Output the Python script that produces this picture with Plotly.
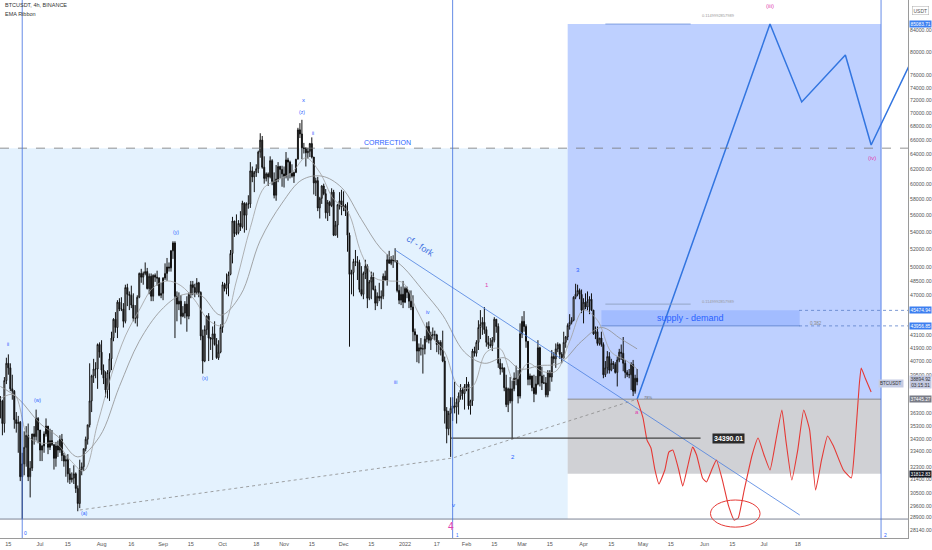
import math
import pandas as pd
import plotly.graph_objects as go

# ---------------- price data (thousand USD), daily ----------------
months = [
    ("2021-06-11",
     [37.3, 35.5, 39.0, 40.5, 40.1, 38.3, 38.1, 35.8, 35.5, 35.6, 31.6, 32.5, 33.7, 34.6, 31.6, 32.2, 34.7, 34.5, 35.9, 35.0],
     [37.7, 37.4, 39.3, 41.0, 41.3, 40.5, 39.5, 38.2, 36.4, 36.1, 35.7, 33.3, 34.9, 35.3, 35.5, 32.7, 34.7, 35.3, 36.6, 36.0],
     [35.9, 34.6, 34.8, 38.7, 39.5, 38.1, 37.4, 35.1, 34.8, 33.3, 31.3, 28.8, 31.7, 32.3, 31.3, 30.2, 32.0, 33.9, 34.2, 34.0]),
    ("2021-07-01",
     [33.5, 33.8, 34.7, 35.3, 33.7, 34.2, 33.9, 32.9, 33.8, 33.5, 34.3, 33.1, 32.7, 32.8, 31.8, 31.4, 31.5, 31.8, 30.8, 29.8, 32.1, 32.3, 33.6, 34.3, 35.4, 37.3, 39.4, 40.0, 40.0, 42.2, 41.5],
     [35.0, 33.9, 34.9, 35.9, 35.3, 35.1, 35.0, 33.9, 34.1, 34.2, 34.6, 34.7, 33.3, 33.1, 33.2, 32.2, 31.9, 32.4, 31.9, 31.0, 32.8, 32.6, 33.6, 34.5, 35.4, 40.5, 39.5, 40.9, 40.6, 42.3, 42.4],
     [32.7, 32.7, 33.3, 34.5, 33.2, 33.5, 33.8, 32.1, 32.3, 33.0, 33.3, 32.7, 32.3, 31.6, 31.2, 31.1, 31.2, 31.1, 30.5, 29.3, 29.5, 31.7, 32.0, 33.4, 33.9, 35.2, 36.4, 38.8, 39.2, 38.3, 41.0]),
    ("2021-08-01",
     [39.9, 39.2, 38.2, 39.7, 40.9, 42.8, 44.6, 43.8, 46.3, 45.6, 45.6, 44.4, 47.8, 47.1, 47.0, 46.0, 44.7, 44.7, 46.8, 49.3, 48.9, 49.3, 49.5, 47.7, 49.0, 46.9, 49.1, 48.9, 48.8, 47.0, 47.2],
     [42.6, 40.4, 39.8, 39.9, 41.4, 43.4, 44.7, 45.3, 46.5, 46.7, 46.8, 46.2, 48.1, 48.2, 47.4, 48.0, 47.2, 46.0, 47.0, 49.4, 49.8, 49.5, 50.5, 49.9, 49.3, 49.3, 49.2, 49.3, 49.6, 48.9, 48.3],
     [39.5, 38.7, 37.6, 37.5, 37.3, 39.9, 42.5, 43.3, 42.8, 45.4, 45.4, 43.8, 44.2, 45.9, 45.5, 45.7, 44.4, 44.2, 43.9, 46.7, 48.3, 48.1, 49.1, 47.6, 47.1, 46.4, 46.4, 48.4, 48.0, 46.9, 46.7]),
    ("2021-09-01",
     [48.8, 49.3, 50.0, 49.9, 51.8, 52.7, 46.9, 46.1, 46.4, 44.9, 45.2, 46.1, 44.9, 47.1, 48.1, 47.8, 47.3, 48.3, 47.3, 43.0, 40.7, 43.6, 44.9, 42.8, 42.7, 43.2, 42.2, 41.0, 41.5, 43.8],
     [48.9, 50.4, 51.0, 50.5, 51.9, 52.9, 52.9, 47.4, 47.3, 47.0, 45.9, 46.4, 46.9, 47.3, 48.5, 48.5, 48.2, 48.8, 48.4, 47.4, 43.6, 44.0, 45.0, 45.2, 42.9, 43.9, 44.4, 42.8, 42.6, 44.1],
     [46.5, 48.6, 48.5, 49.5, 49.5, 50.9, 42.8, 44.4, 45.5, 44.1, 44.8, 44.7, 43.4, 44.6, 46.7, 47.0, 46.8, 47.1, 46.8, 42.6, 39.6, 40.6, 43.1, 40.7, 41.7, 40.8, 42.1, 40.9, 40.8, 41.4]),
    ("2021-10-01",
     [48.1, 47.7, 48.2, 49.2, 51.5, 55.3, 53.8, 53.9, 55.0, 54.6, 57.5, 56.0, 57.4, 57.4, 61.7, 60.9, 61.5, 62.0, 64.3, 66.0, 62.2, 60.7, 61.3, 60.9, 63.1, 60.3, 58.5, 60.6, 62.3, 61.9, 61.3],
     [48.4, 48.3, 49.3, 49.5, 51.9, 55.8, 55.3, 56.1, 55.4, 56.5, 57.8, 57.6, 57.6, 58.5, 62.9, 62.3, 61.7, 62.6, 64.5, 67.0, 66.6, 63.7, 61.5, 61.5, 63.7, 63.3, 61.5, 62.5, 62.9, 62.4, 62.4],
     [43.3, 47.4, 47.1, 46.9, 49.1, 50.4, 53.4, 53.6, 53.7, 54.1, 54.4, 53.9, 54.2, 56.8, 56.9, 60.2, 58.9, 60.9, 61.4, 63.5, 62.0, 60.0, 60.3, 59.7, 60.7, 59.8, 58.1, 57.8, 60.2, 60.7, 59.6]),
    ("2021-11-01",
     [61.0, 63.2, 62.9, 61.4, 61.0, 61.5, 63.3, 67.5, 66.9, 64.9, 64.8, 64.2, 64.4, 65.5, 63.6, 60.1, 60.4, 56.9, 58.1, 59.7, 58.7, 56.3, 57.6, 57.2, 58.9, 53.6, 54.8, 57.3, 57.8, 57.0],
     [62.3, 64.3, 63.5, 63.1, 62.6, 61.6, 63.3, 67.8, 68.5, 69.0, 65.6, 65.0, 64.9, 65.6, 66.4, 63.6, 60.8, 60.9, 58.3, 59.8, 60.0, 59.3, 57.9, 57.8, 59.4, 59.2, 55.3, 57.4, 58.9, 59.2],
     [59.5, 60.7, 60.4, 60.7, 60.8, 60.1, 61.4, 63.3, 66.3, 63.3, 64.1, 62.3, 63.4, 63.6, 63.4, 58.6, 58.4, 56.5, 55.6, 57.4, 58.5, 55.6, 55.3, 55.9, 57.0, 53.5, 53.6, 53.3, 56.7, 56.0]),
    ("2021-12-01",
     [57.2, 56.5, 53.6, 49.2, 49.4, 50.6, 50.6, 50.5, 47.6, 47.1, 49.3, 50.1, 46.7, 48.4, 48.9, 47.6, 46.2, 46.9, 46.7, 46.9, 49.0, 48.6, 50.8, 50.4, 50.8, 50.7, 50.7, 47.5, 46.5, 47.1, 46.3],
     [59.0, 57.4, 57.6, 53.9, 49.7, 50.9, 51.9, 51.2, 50.8, 50.1, 49.5, 50.8, 50.3, 48.6, 49.5, 49.4, 48.0, 47.3, 48.3, 47.5, 49.3, 49.6, 51.4, 51.8, 51.2, 51.3, 52.1, 50.7, 48.1, 47.9, 48.5],
     [56.5, 55.9, 51.7, 42.0, 47.1, 46.9, 50.1, 48.6, 47.3, 46.9, 46.6, 48.7, 45.7, 46.5, 46.6, 47.5, 45.5, 45.9, 46.4, 45.6, 46.6, 48.5, 48.0, 50.4, 50.2, 49.9, 50.5, 47.3, 46.1, 46.0, 45.7]),
    ("2022-01-01",
     [47.7, 47.3, 46.4, 45.8, 43.4, 43.1, 41.6, 41.9, 41.8, 41.8, 42.7, 43.9, 42.6, 43.1, 43.1, 43.1, 42.2, 42.4, 41.7, 40.7, 36.5, 35.1, 36.3, 36.7, 36.9, 36.8, 37.2, 37.7, 38.2, 37.9, 38.5],
     [47.9, 47.9, 47.5, 47.5, 47.0, 43.7, 43.1, 42.3, 42.8, 42.2, 43.0, 44.3, 44.4, 43.4, 43.8, 43.5, 43.2, 42.6, 42.6, 43.5, 41.1, 36.8, 36.5, 37.6, 37.6, 38.9, 37.5, 38.0, 38.7, 38.4, 38.7],
     [46.2, 46.7, 45.7, 45.5, 42.5, 42.5, 40.6, 40.5, 41.2, 39.6, 41.3, 42.4, 42.3, 41.7, 42.7, 42.6, 41.5, 41.3, 41.2, 40.6, 35.5, 34.0, 34.6, 33.0, 35.7, 36.3, 35.5, 36.2, 37.4, 37.4, 36.6]),
    ("2022-02-01",
     [38.7, 36.9, 37.3, 41.6, 41.4, 42.4, 43.8, 44.1, 44.3, 43.6, 42.4, 42.2, 42.1, 42.6, 44.6, 43.9, 40.5, 40.0, 40.1, 38.4, 37.0, 38.3, 37.3, 38.3, 39.2, 39.1, 37.7, 43.2],
     [39.3, 38.9, 37.4, 41.8, 42.0, 42.6, 44.5, 45.5, 44.8, 45.8, 43.9, 43.0, 42.8, 42.9, 44.8, 44.6, 44.2, 40.9, 40.5, 40.1, 39.5, 38.4, 39.3, 39.0, 39.7, 40.3, 39.9, 44.2],
     [38.1, 36.6, 36.2, 36.9, 41.1, 41.1, 41.7, 42.7, 43.1, 43.2, 42.0, 41.8, 41.9, 41.6, 42.4, 43.3, 40.1, 39.5, 39.7, 38.1, 36.8, 36.4, 37.1, 34.3, 38.1, 38.6, 37.1, 37.5]),
    ("2022-03-01",
     [44.4, 43.9, 42.5, 39.1, 39.4, 38.4, 37.9, 38.7, 41.9, 39.4, 38.8, 38.8, 37.8, 39.7, 39.3, 41.1, 40.9, 41.8, 42.2, 41.3, 41.0, 42.4, 42.9, 44.0, 44.3, 44.5, 46.8, 47.1, 47.5, 47.1, 45.5],
     [44.9, 45.4, 44.1, 42.5, 39.6, 39.4, 39.5, 39.4, 42.6, 42.0, 40.2, 39.5, 39.3, 39.9, 39.9, 41.7, 41.5, 42.3, 42.4, 42.3, 41.5, 43.4, 43.0, 44.2, 45.1, 44.8, 46.9, 48.2, 48.1, 47.7, 47.6],
     [42.8, 43.4, 41.9, 38.6, 38.6, 38.1, 37.2, 37.8, 38.6, 38.5, 38.2, 38.7, 37.6, 37.6, 38.1, 38.9, 40.5, 40.1, 41.5, 40.9, 40.5, 40.9, 41.9, 42.6, 43.6, 44.1, 44.4, 46.6, 46.9, 46.6, 45.2]),
    ("2022-04-01",
     [46.3, 45.8, 46.4, 46.6, 45.5, 43.2, 43.4, 42.3, 42.8, 42.2, 39.5, 40.1, 41.1, 39.9, 40.5, 40.4, 39.7, 40.8, 41.5, 41.4, 40.5, 39.7, 39.5, 39.5, 40.4, 38.1, 39.2, 38.9],
     [46.7, 47.2, 47.4, 46.9, 47.2, 45.5, 43.9, 43.9, 42.8, 43.4, 42.4, 40.7, 41.6, 41.5, 40.9, 40.7, 40.6, 41.1, 41.8, 42.2, 42.9, 40.8, 39.9, 40.0, 40.6, 40.8, 39.5, 40.0],
     [44.2, 45.6, 45.5, 45.1, 45.4, 43.1, 42.7, 42.1, 42.1, 42.0, 39.2, 39.3, 39.6, 39.6, 39.8, 40.0, 39.6, 38.5, 40.6, 40.8, 39.8, 39.2, 39.3, 39.2, 38.2, 37.7, 37.9, 38.6]),
]

dates, closes, highs, lows = [], [], [], []
for start, c, h, l in months:
    dates += list(pd.date_range(start, periods=len(c), freq="D"))
    closes += [v * 1000 for v in c]
    highs += [v * 1000 for v in h]
    lows += [v * 1000 for v in l]
opens = [closes[0]] + closes[:-1]

# EMA ribbon (read approximately)
ema_mid_dates = ["2021-06-11", "2021-06-18", "2021-06-25", "2021-07-02", "2021-07-09", "2021-07-16", "2021-07-23", "2021-07-30",
                 "2021-08-06", "2021-08-13", "2021-08-20", "2021-08-27", "2021-09-03", "2021-09-10", "2021-09-17", "2021-09-24",
                 "2021-10-01", "2021-10-08", "2021-10-15", "2021-10-22", "2021-10-29", "2021-11-05", "2021-11-12", "2021-11-19",
                 "2021-11-26", "2021-12-03", "2021-12-10", "2021-12-17", "2021-12-24", "2021-12-31", "2022-01-07", "2022-01-14",
                 "2022-01-21", "2022-01-28", "2022-02-04", "2022-02-11", "2022-02-18", "2022-02-25", "2022-03-04", "2022-03-11",
                 "2022-03-18", "2022-03-25", "2022-04-01", "2022-04-08", "2022-04-15", "2022-04-22", "2022-04-28"]
ema_mid = [37500, 37800, 34500, 34000, 34000, 32800, 32000, 35500, 39500, 43000, 45500, 47800, 48500, 48000, 46500, 44500,
           44000, 48500, 54500, 59500, 60500, 61500, 63500, 61500, 58000, 56500, 51500, 48800, 48500, 48300, 45500, 43000,
           41500, 38500, 38500, 41500, 41800, 39000, 40500, 39800, 39800, 42500, 45500, 44500, 41500, 40800, 40000]
ema_slow_dates = ["2021-06-11", "2021-06-20", "2021-07-01", "2021-07-10", "2021-07-20", "2021-07-31", "2021-08-10", "2021-08-20",
                  "2021-08-31", "2021-09-10", "2021-09-20", "2021-09-30", "2021-10-10", "2021-10-20", "2021-10-31", "2021-11-10",
                  "2021-11-20", "2021-11-30", "2021-12-10", "2021-12-20", "2021-12-31", "2022-01-10", "2022-01-20", "2022-01-31",
                  "2022-02-10", "2022-02-20", "2022-02-28", "2022-03-10", "2022-03-20", "2022-03-31", "2022-04-10", "2022-04-20",
                  "2022-04-28"]
ema_slow = [38500, 37500, 35500, 34500, 33000, 34500, 38500, 42500, 45500, 47000, 47000, 45000, 47000, 53000, 57500, 60500,
            61000, 59500, 55500, 52000, 50000, 47500, 45000, 41500, 40500, 41000, 40000, 40300, 40500, 42500, 43800, 42700, 41800]

# levels
low_level = 28805
correction_level = 64850
entry = 37445.27
target = 85083.71
stop = 31812.83
supply_hi = 45474.94
supply_lo = 43956.85
support = 34390.01
last_price = 38894.92

# projections
blue_dates = ["2022-04-28", "2022-07-04", "2022-07-20", "2022-08-11", "2022-08-24", "2022-09-14"]
blue_prices = [37445, 85083, 71750, 79500, 65300, 79000]
red_dates = ["2022-04-28", "2022-05-01", "2022-05-03", "2022-05-05", "2022-05-07", "2022-05-09", "2022-05-12", "2022-05-14",
             "2022-05-16", "2022-05-19", "2022-05-21", "2022-05-24", "2022-05-26", "2022-05-28", "2022-05-31", "2022-06-02",
             "2022-06-05", "2022-06-07", "2022-06-10", "2022-06-13", "2022-06-16", "2022-06-18", "2022-06-21", "2022-06-25",
             "2022-06-28", "2022-07-01", "2022-07-04", "2022-07-07", "2022-07-10", "2022-07-12", "2022-07-15", "2022-07-18",
             "2022-07-21", "2022-07-24", "2022-07-27", "2022-07-30", "2022-08-02", "2022-08-05", "2022-08-10", "2022-08-14",
             "2022-08-16", "2022-08-18", "2022-08-19", "2022-08-21", "2022-08-24"]
red_prices = [37445, 35930, 34240, 33650, 32070, 31100, 32070, 33350, 33500, 32070, 30960, 32630, 33720, 33140, 31510, 31240,
              32210, 32780, 31370, 29700, 28740, 28870, 30690, 33140, 34390, 33140, 32070, 34240, 36570, 34240, 31370, 33500,
              36570, 35000, 30690, 32780, 34550, 33790, 32070, 31510, 34240, 38620, 40090, 39220, 38040]

fork_dates = ["2021-12-27", "2022-07-19"]
fork_prices = [51900, 29060]
dot_dates = ["2021-07-21", "2022-01-25", "2022-04-28"]
dot_prices = [29380, 32920, 37445]

# axis ticks
x_ticks = ["2021-06-15", "2021-07-01", "2021-07-15", "2021-08-01", "2021-08-16", "2021-09-01", "2021-09-15", "2021-10-01",
           "2021-10-18", "2021-11-01", "2021-11-15", "2021-12-01", "2021-12-15", "2022-01-01", "2022-01-17", "2022-02-01",
           "2022-02-15", "2022-03-01", "2022-03-15", "2022-04-01", "2022-04-15", "2022-05-01", "2022-05-15", "2022-06-01",
           "2022-06-15", "2022-07-01", "2022-07-18"]
x_labels = ["15", "Jul", "15", "Aug", "16", "Sep", "15", "Oct", "18", "Nov", "15", "Dec", "15", "2022", "17", "Feb",
            "15", "Mar", "15", "Apr", "15", "May", "15", "Jun", "15", "Jul", "18"]
y_ticks = [84000, 80000, 76000, 74000, 72000, 70000, 68000, 66000, 64000, 62000, 60000, 58000, 56000, 54000, 52000, 50000,
           48500, 47000, 43100, 41900, 40700, 39500, 36300, 35300, 34300, 33400, 32300, 31400, 30500, 29600, 28900, 28140]

W, H = 932, 550
PW, PH = 908, 538
X0, X1 = "2021-06-10 19:00", "2022-09-11 14:00"
FONT = "Liberation Sans"
BLUE = "#2962ff"
PINK = "#e040b0"

fig = go.Figure()

fig.add_trace(go.Scatter(x=ema_slow_dates, y=ema_slow, mode="lines", line=dict(color="#8f8f8f", width=0.8, shape="spline"),
                         hoverinfo="skip"))
fig.add_trace(go.Scatter(x=ema_mid_dates, y=ema_mid, mode="lines", line=dict(color="#a0a0a0", width=0.8, shape="spline"),
                         hoverinfo="skip"))
fig.add_trace(go.Candlestick(x=dates, open=opens, high=highs, low=lows, close=closes,
                             increasing=dict(line=dict(color="#111", width=1), fillcolor="#ffffff"),
                             decreasing=dict(line=dict(color="#111", width=1), fillcolor="#111"),
                             whiskerwidth=0, hoverinfo="skip"))
fig.add_trace(go.Scatter(x=dot_dates, y=dot_prices, mode="lines", line=dict(color="#8a8a8a", width=0.8, dash="dot"),
                         hoverinfo="skip"))
fig.add_trace(go.Scatter(x=fork_dates, y=fork_prices, mode="lines", line=dict(color="#4a7fe0", width=0.8), hoverinfo="skip"))
fig.add_trace(go.Scatter(x=blue_dates, y=blue_prices, mode="lines", line=dict(color="#3275e0", width=1.5), hoverinfo="skip"))
fig.add_trace(go.Scatter(x=red_dates, y=red_prices, mode="lines",
                         line=dict(color="#e53935", width=1.1, shape="spline", smoothing=0.4), hoverinfo="skip"))

shapes = []
def rect(x0, x1, y0, y1, fill, line=None):
    shapes.append(dict(type="rect", xref="x", yref="y", x0=x0, x1=x1, y0=y0, y1=y1, fillcolor=fill,
                       line=dict(width=0) if line is None else line, layer="below"))
def hline(y, x0, x1, color, width=1, dash="solid", xref="x"):
    shapes.append(dict(type="line", xref=xref, yref="y", x0=x0, x1=x1, y0=y, y1=y,
                       line=dict(color=color, width=width, dash=dash), layer="above"))
def vline(x, color, width=0.8):
    shapes.append(dict(type="line", xref="x", yref="paper", x0=x, x1=x, y0=0, y1=1,
                       line=dict(color=color, width=width), layer="above"))

rect("2021-06-01", "2022-03-24", low_level, correction_level, "rgba(33,150,243,0.12)")
rect("2022-03-24", "2022-08-29", entry, target, "rgba(41,98,255,0.30)")
rect("2022-03-24", "2022-08-29", stop, entry, "rgba(120,123,134,0.35)")
rect("2022-04-10", "2022-07-19", supply_lo, supply_hi, "rgba(41,98,255,0.18)")
hline(correction_level, 0, 1, "#777", 0.8, "dash", xref="paper")
hline(low_level, 0, 1, "#7d8494", 1, xref="paper")
hline(entry, "2022-03-24", "2022-08-29", "#8a8a8a", 1)
hline(support, "2022-01-24", "2022-05-30", "#444", 1.2)
hline(supply_lo, "2022-04-10", "2022-07-19", "#5a7fc8", 0.8)
shapes.append(dict(type="line", xref="paper", yref="y", x0=0.88, x1=1, y0=supply_hi, y1=supply_hi,
                   line=dict(color="#5a7fc8", width=0.8, dash="dot")))
shapes.append(dict(type="line", xref="paper", yref="y", x0=0.88, x1=1, y0=supply_lo, y1=supply_lo,
                   line=dict(color="#5a7fc8", width=0.8, dash="dot")))
hline(target, "2022-04-12", "2022-05-25", "#6a8fd8", 0.8)
hline(46100, "2022-04-12", "2022-05-25", "#8a9ab8", 0.8)
vline("2021-06-22", "#3f6fe0")
vline("2022-01-25", "#3f6fe0")
vline("2022-08-29", "#3f6fe0")
shapes.append(dict(type="circle", xref="x", yref="y", x0="2022-06-04", x1="2022-06-29", y0=28300, y1=30030,
                   line=dict(color="#e53935", width=1)))

annotations = []
def txt(px, py, s, color="#333", size=6, anchor="center", angle=0, bg=None, bold=False):
    annotations.append(dict(xref="paper", yref="paper", x=px / PW, y=1 - py / PH, text=("<b>%s</b>" % s) if bold else s,
                            showarrow=False, xanchor=anchor, yanchor="middle", textangle=angle,
                            font=dict(family=FONT, size=size, color=color), bgcolor=bg, borderpad=1))
def axlabel(price, s, bg, fg="white"):
    annotations.append(dict(xref="paper", yref="y", x=1, y=math.log10(price), text=s, showarrow=False,
                            xanchor="left", yanchor="middle", xshift=1, font=dict(family=FONT, size=4.8, color=fg),
                            bgcolor=bg, borderpad=0.5))

txt(3, 5, "BTCUSDT, 4h, BINANCE", "#333", 5.5, "left")
txt(3, 14, "EMA Ribbon", "#333", 5.5, "left")
txt(387, 142, "CORRECTION", BLUE, 7)
txt(420, 246, "cf - fork", "#3f6fe0", 9, angle=33)
txt(690, 318, "supply - demand", "#2962ff", 9)
txt(808, 323, "0.382", "#888", 4.5, "left")
txt(700, 301, "0.1149992857989", "#999", 4, "left")
txt(700, 16, "0.1149992857989", "#999", 4, "left")
txt(728, 438, "34390.01", "white", 7, bg="#2b2b2b", bold=True)
txt(642, 397, "78%", "#666", 4, "left")
txt(770, 6, "(iii)", PINK, 6)
txt(872, 158, "(iv)", PINK, 6)
txt(303, 100, "x", BLUE, 6)
txt(302, 112, "(z)", BLUE, 5)
txt(313, 133, "ii", BLUE, 5)
txt(8, 344, "ii", BLUE, 5)
txt(37, 400, "(w)", BLUE, 5)
txt(84, 513, "(a)", BLUE, 5)
txt(176, 232, "(y)", BLUE, 5)
txt(205, 378, "(x)", BLUE, 5)
txt(395, 382, "iii", BLUE, 5)
txt(428, 312, "iv", BLUE, 5)
txt(453, 505, "v", BLUE, 6)
txt(451, 526, "4", PINK, 10)
txt(487, 285, "1", PINK, 6)
txt(513, 457, "2", BLUE, 6)
txt(578, 270, "3", BLUE, 6)
txt(637, 412, "a", PINK, 6)
txt(25, 533, "0", BLUE, 5)
txt(457, 535, "1", BLUE, 4.5)
txt(885, 535, "2", BLUE, 5)
txt(878, 383, "BTCUSDT", "#333", 4.5, "left", bg="#c5cbe3")

axlabel(target, "85083.71", "#3d7ff0")
axlabel(supply_hi, "45474.94", "#3d7ff0")
axlabel(supply_lo, "43956.85", "#3d7ff0")
axlabel(last_price, "38894.92<br>03:15:31", "#c5cbe3", "#333")
axlabel(entry, "37445.27", "#787b86")
axlabel(stop, "31812.83", "#131722")
annotations.append(dict(xref="paper", yref="paper", x=1, y=1 - 6 / PH, text="USDT", showarrow=False, xanchor="left",
                        xshift=4, font=dict(family=FONT, size=5, color="#555"), bordercolor="#aaa", borderwidth=0.5,
                        borderpad=1))

fig.update_layout(
    width=W, height=H, margin=dict(l=0, r=W - PW, t=0, b=H - PH),
    paper_bgcolor="white", plot_bgcolor="white", showlegend=False,
    shapes=shapes, annotations=annotations,
    xaxis=dict(type="date", range=[X0, X1], tickvals=x_ticks, ticktext=x_labels, showgrid=False, zeroline=False,
               showline=True, linecolor="#9a9a9a", linewidth=1, ticks="", tickfont=dict(family=FONT, size=5.5, color="#555"),
               rangeslider=dict(visible=False), fixedrange=True),
    yaxis=dict(type="log", range=[math.log10(27635), math.log10(89680)], side="right", tickvals=y_ticks,
               ticktext=["%.2f" % v for v in y_ticks], showgrid=False, zeroline=False, showline=True,
               linecolor="#9a9a9a", linewidth=1, ticks="", tickfont=dict(family=FONT, size=5.2, color="#555")),
)
fig.write_html("out.html", config={"displayModeBar": False},
               post_script="document.body.style.margin='0px';document.body.style.overflow='hidden';")
